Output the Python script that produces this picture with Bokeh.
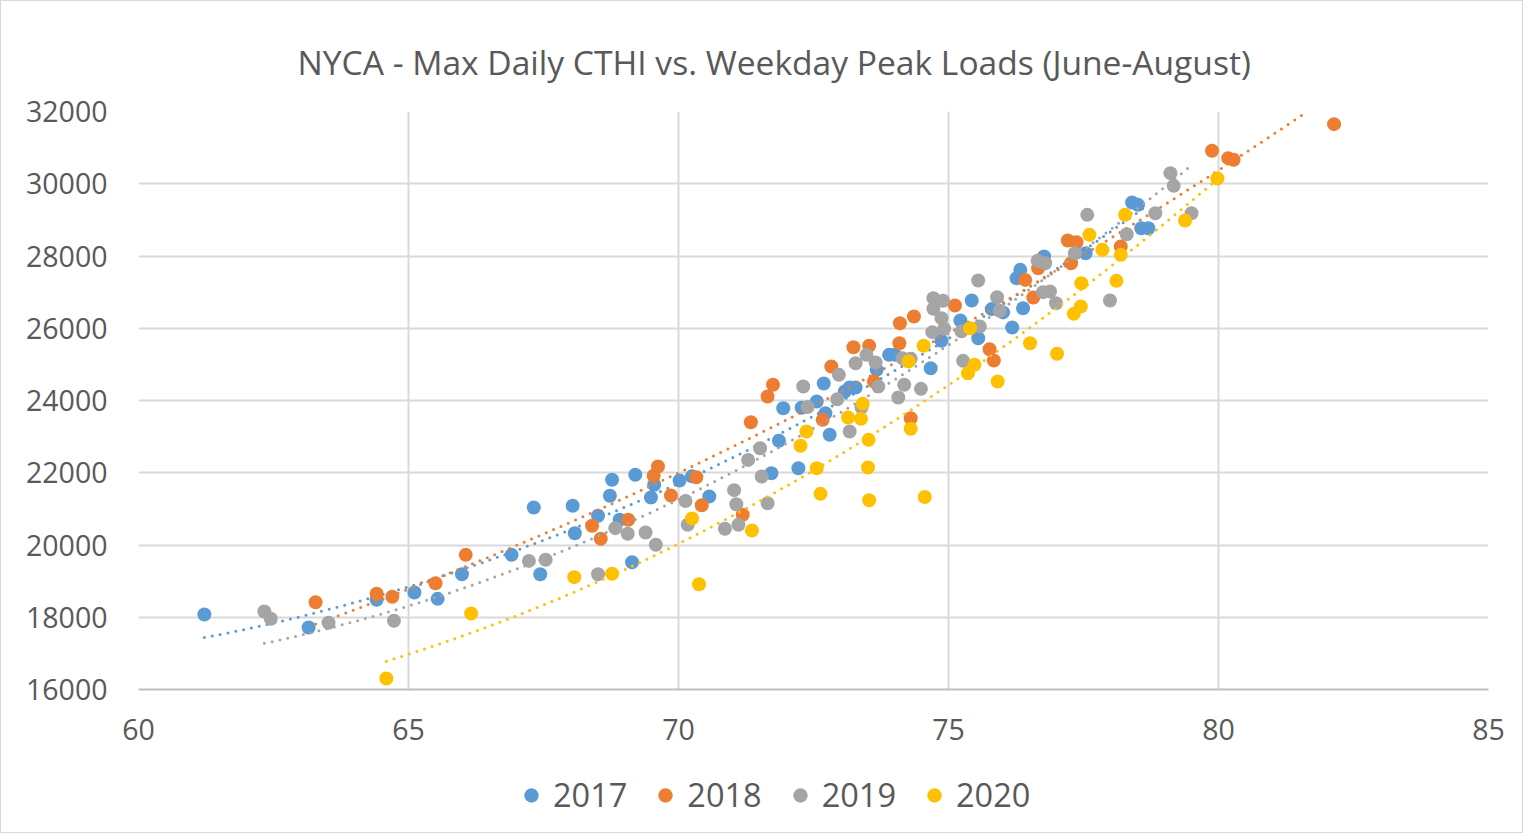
import numpy as np
from bokeh.plotting import figure
from bokeh.models import Legend, LegendItem, Range1d, FixedTicker
from bokeh.layouts import column
from bokeh.embed import file_html
from bokeh.resources import INLINE

TITLE = "NYCA - Max Daily CTHI vs. Weekday Peak Loads (June-August)"
SERIES = ["2017", "2018", "2019", "2020"]
COLORS = ["#5B9BD5", "#ED7D31", "#A5A5A5", "#FFC000"]
X_TICKS = [60, 65, 70, 75, 80, 85]
Y_TICKS = [16000, 18000, 20000, 22000, 24000, 26000, 28000, 30000, 32000]

cthi_2017 = [61.22, 63.15, 64.41, 65.11, 65.54, 65.99, 66.91, 67.32, 67.44, 68.04, 68.08, 68.51,
             68.73, 68.77, 68.91, 69.20, 69.14, 69.49, 69.55, 70.02, 70.25, 70.57, 71.72, 72.22,
             71.86, 71.94, 72.28, 72.56, 72.72, 72.80, 72.69, 73.08, 73.17, 73.28, 73.67, 73.90,
             74.01, 74.67, 74.87, 75.55, 75.22, 75.43, 75.80, 76.01, 76.18, 76.38, 76.26, 76.33,
             76.77, 77.54, 78.40, 78.51, 78.57, 78.70]
load_2017 = [18076, 17716, 18483, 18685, 18510, 19192, 19728, 21038, 19192, 21085, 20327, 20808,
             21362, 21805, 20697, 21943, 19524, 21315, 21667, 21785, 21900, 21342, 21987, 22125,
             22884, 23786, 23800, 23972, 23649, 23050, 24470, 24249, 24360, 24360, 24849, 25264,
             25264, 24894, 25652, 25725, 26213, 26768, 26530, 26439, 26020, 26555, 27385, 27616,
             27985, 28077, 29480, 29416, 28770, 28770]

cthi_2018 = [63.28, 64.41, 64.70, 65.50, 66.06, 68.40, 68.56, 69.07, 69.54, 69.62, 69.86, 70.33,
             70.43, 71.19, 71.34, 71.65, 71.75, 72.67, 72.83, 73.24, 73.53, 73.62, 74.09, 74.10,
             74.36, 74.30, 75.12, 75.76, 75.84, 76.57, 76.42, 76.66, 77.21, 77.37, 77.27, 78.19,
             79.88, 80.18, 80.28, 82.14]
load_2018 = [18417, 18649, 18566, 18943, 19728, 20531, 20171, 20697, 21915, 22173, 21370, 21877,
             21100, 20836, 23399, 24110, 24434, 23464, 24941, 25475, 25514, 24526, 25586, 26139,
             26325, 23510, 26629, 25420, 25107, 26851, 27339, 27662, 28428, 28382, 27801, 28262,
             30912, 30709, 30663, 31650]

cthi_2019 = [62.33, 62.45, 63.52, 64.73, 67.23, 67.54, 68.51, 68.83, 69.06, 69.39, 69.58, 70.13,
             70.17, 70.86, 71.03, 71.07, 71.11, 71.29, 71.51, 71.54, 71.65, 72.31, 72.39, 72.97,
             72.94, 73.17, 73.39, 73.28, 73.48, 73.65, 73.70, 74.15, 74.18, 74.07, 74.49, 74.70,
             74.72, 74.90, 74.72, 74.87, 74.92, 75.24, 75.27, 75.58, 75.55, 74.30, 75.90, 75.95,
             76.75, 76.88, 76.99, 76.65, 76.79, 77.99, 77.34, 78.30, 77.57, 78.83, 79.50, 79.11,
             79.17]
load_2019 = [18160, 17957, 17846, 17902, 19560, 19590, 19192, 20466, 20310, 20346, 20005, 21218,
             20559, 20448, 21518, 21130, 20559, 22356, 22680, 21896, 21157, 24387, 23820, 24710,
             24036, 23141, 23806, 25032, 25264, 25051, 24387, 25170, 24434, 24083, 24323, 25892,
             26833, 26760, 26538, 26280, 25985, 25918, 25097, 26048, 27321, 25154, 26860, 26483,
             26999, 27017, 26693, 27866, 27801, 26768, 28077, 28603, 29139, 29183, 29183, 30293,
             29942]

cthi_2020 = [64.59, 66.16, 68.07, 68.77, 70.25, 70.38, 71.36, 72.26, 72.37, 72.56, 72.63, 73.14,
             73.38, 73.41, 73.52, 73.51, 73.53, 74.26, 74.54, 74.30, 74.56, 75.40, 75.36, 75.48,
             75.91, 76.51, 77.01, 77.46, 77.45, 77.32, 78.11, 77.61, 77.85, 78.19, 78.27, 79.38,
             79.98]
load_2020 = [16304, 18104, 19110, 19203, 20733, 18915, 20401, 22746, 23141, 22125, 21416, 23528,
             23492, 23907, 22911, 22145, 21240, 25079, 25514, 23216, 21330, 26000, 24755, 24988,
             24526, 25586, 25293, 27247, 26601, 26398, 27312, 28585, 28170, 28032, 29139, 28982,
             30145]

XS = [cthi_2017, cthi_2018, cthi_2019, cthi_2020]
YS = [load_2017, load_2018, load_2019, load_2020]

FONT = "Open Sans"
TXT = "#595959"
GRID = "#D9D9D9"

p = figure(width=1521, height=760, output_backend="svg", toolbar_location=None,
           x_range=Range1d(60, 85), y_range=Range1d(16000, 32000),
           min_border_left=137, min_border_right=34, min_border_top=110, min_border_bottom=72)
p.outline_line_color = None
p.background_fill_color = "white"
p.border_fill_color = "white"

p.title.text = TITLE
p.title.align = "left"
p.title.offset = 159
p.title.text_font = FONT
p.title.text_font_size = "33.6px"
p.title.text_font_style = "normal"
p.title.text_color = TXT
p.title.standoff = 53

for ax, ticks in ((p.xaxis, X_TICKS), (p.yaxis, Y_TICKS)):
    ax.ticker = FixedTicker(ticks=ticks)
    ax.major_label_text_font = FONT
    ax.major_label_text_font_size = "28.5px"
    ax.major_label_text_color = TXT
    ax.major_tick_line_color = None
    ax.minor_tick_line_color = None
p.xaxis.axis_line_color = "#BFBFBF"
p.xaxis.axis_line_width = 2
p.yaxis.axis_line_color = None
p.xaxis.major_label_standoff = 23
p.yaxis.major_label_standoff = 25

p.xgrid.ticker = FixedTicker(ticks=X_TICKS)
p.ygrid.ticker = FixedTicker(ticks=Y_TICKS)
for g in (p.xgrid, p.ygrid):
    g.grid_line_color = GRID
    g.grid_line_width = 2

# legend strip below the chart (its data range hides the one sample point per series)
lg = figure(width=1521, height=71, output_backend="svg", toolbar_location=None,
            x_range=Range1d(0, 1), y_range=Range1d(0, 1), x_axis_type=None, y_axis_type=None,
            min_border=0)
lg.outline_line_color = None
lg.grid.visible = False
lg.border_fill_color = "white"
lg.background_fill_color = "white"

items = []
for name, col, xs, ys in zip(SERIES, COLORS, XS, YS):
    x = np.array(xs, dtype=float)
    y = np.array(ys, dtype=float)
    coef = np.polyfit(x, y, 2)
    tx = np.linspace(x.min(), x.max(), 200)
    ty = np.polyval(coef, tx)
    keep = ty <= 32000
    p.line(tx[keep], ty[keep], line_color=col, line_width=3, line_dash="0 8", line_cap="round")
    p.scatter(x, y, size=14, marker="circle", fill_color=col, line_color=col, line_width=0)
    r = lg.scatter(x=x[:1], y=y[:1], size=14, marker="circle", fill_color=col,
                   line_color=col, line_width=0)
    items.append(LegendItem(label=name, renderers=[r]))

legend = Legend(items=items, orientation="horizontal", location=(375, 15),
                label_text_font=FONT, label_text_font_size="32.5px", label_text_color=TXT,
                border_line_color=None, background_fill_alpha=0, spacing=20,
                glyph_width=36, glyph_height=36, label_standoff=4, margin=0, padding=0)
lg.add_layout(legend, "center")

layout = column(p, lg, spacing=0)
layout.styles = {"border": "1px solid #D9D9D9"}

open("out.html", "w").write(file_html(layout, INLINE))
